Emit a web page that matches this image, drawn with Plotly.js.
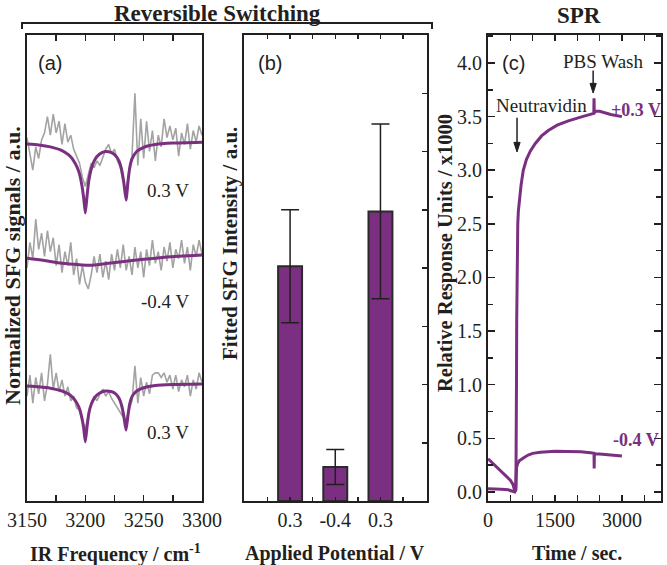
<!DOCTYPE html>
<html><head><meta charset="utf-8">
<script src="https://cdn.plot.ly/plotly-3.0.1.min.js"></script>
<style>html,body{margin:0;padding:0;background:#fff}</style>
</head><body><div id="chart" style="width:667px;height:565px"></div>
<script>
// ---------- Panel (a): SFG spectra (offset, arbitrary units) ----------
const freq = [3150,3152.5,3155,3157.5,3160,3162.5,3165,3167.5,3170,3172.5,3175,3177.5,3180,3182.5,3185,3187.5,3190,3192.5,3195,3197.5,3200,3202.5,3205,3207.5,3210,3212.5,3215,3217.5,3220,3222.5,3225,3227.5,3230,3232.5,3235,3237.5,3240,3242.5,3245,3247.5,3250,3252.5,3255,3257.5,3260,3262.5,3265,3267.5,3270,3272.5,3275,3277.5,3280,3282.5,3285,3287.5,3290,3292.5,3295,3297.5,3300];
const sfgTopData = [78.0,74.5,71.0,76.0,73.5,77.5,79.0,82.5,78.5,83.0,79.0,81.5,76.5,81.0,77.0,78.5,75.5,74.0,72.5,69.5,67.5,70.0,72.5,71.5,73.0,72.0,74.0,75.5,76.5,74.5,75.5,73.0,71.5,68.5,66.5,71.0,74.0,87.5,72.0,82.0,73.5,81.5,75.0,79.5,73.0,78.5,76.0,82.0,78.0,80.5,77.5,80.0,74.0,79.0,76.5,81.0,75.5,79.5,77.0,80.5,78.5];
const sfgMidData = [50.0,55.5,52.0,60.5,54.0,57.5,52.5,58.0,53.5,56.5,50.5,55.0,49.0,53.5,50.5,55.5,48.5,52.0,46.5,50.5,47.0,45.5,48.5,52.5,49.0,53.0,48.0,51.5,47.5,53.0,49.5,54.0,50.0,55.0,49.5,52.5,48.5,54.5,50.0,53.5,48.0,54.0,50.5,56.0,51.0,53.5,49.5,54.5,51.5,55.5,50.0,54.0,52.0,56.0,51.0,54.5,49.5,55.0,52.5,56.0,53.0];
const sfgBotData = [22.5,27.0,21.0,26.5,23.0,27.5,21.5,25.0,31.5,24.0,27.5,23.5,26.0,22.5,24.5,21.5,22.5,20.0,19.5,17.0,15.5,18.5,21.0,22.5,21.5,23.0,24.0,22.5,23.5,22.0,21.0,20.0,19.0,18.0,17.5,19.5,21.5,29.0,21.0,26.5,22.5,25.5,23.0,27.0,27.5,27.5,26.5,27.5,25.5,27.0,24.0,27.0,23.5,26.0,24.5,27.0,22.5,26.0,24.0,27.5,25.5];

const fitFreq = [3150,3160,3170,3180,3186,3190,3193,3195,3197,3198.5,3200,3201.5,3203,3205,3208,3212,3217,3222,3226,3229,3231,3233,3234.9,3236.5,3238,3240,3244,3250,3260,3275,3300];
const fitTop = [76.6,76.4,76.0,75.2,74.2,73.0,71.6,70.2,67.8,65.2,61.8,65.5,68.8,71.2,73.2,74.4,75.0,74.8,74.1,72.9,71.2,68.3,64.6,68.4,71.4,73.4,75.0,75.9,76.5,76.8,77.0];
const fitBot = [24.7,24.5,24.2,23.6,22.9,22.0,20.9,19.8,17.9,15.8,12.7,16.0,18.8,20.7,22.2,23.1,23.6,23.5,23.0,22.0,20.6,18.2,15.2,18.3,20.8,22.4,23.6,24.3,24.8,25.0,25.1];
const fitMidFreq = [3150,3165,3180,3195,3206,3220,3240,3260,3280,3300];
const fitMid = [52.1,51.6,51.0,50.7,50.6,51.0,51.6,52.1,52.5,52.8];
const spectrumLabels = ['0.3 V','-0.4 V','0.3 V'];

// ---------- Panel (b): fitted SFG intensity ----------
const potentialLabels = ['0.3','-0.4','0.3'];
const barPos = [1,2,3];
const sfgIntensity = [4.03,0.585,4.97];
const sfgError = [0.97,0.30,1.50];

// ---------- Panel (c): SPR sensorgrams ----------
const sprTimePos = [0,150,300,450,550,600,625,632,638,643,647,655,667,680,700,740,790,860,950,1060,1200,1350,1549,1800,2112,2300,2370,2375,2380,2390,2500,2750,3000];
const sprPos =     [0.03,0.03,0.025,0.02,0.01,0.0,0.02,0.3,1.0,1.6,2.0,2.3,2.5,2.62,2.72,2.86,3.0,3.1,3.18,3.25,3.32,3.37,3.42,3.46,3.5,3.52,3.53,3.67,3.53,3.55,3.55,3.52,3.5];
const sprTimeNeg = [0,100,200,300,400,500,560,600,620,628,640,660,700,800,900,1000,1170,1500,1800,2075,2300,2375,2378,2382,2385,2390,2500,2750,3000];
const sprNeg =     [0.31,0.27,0.225,0.185,0.145,0.11,0.07,0.01,0.03,0.18,0.23,0.26,0.29,0.32,0.345,0.36,0.37,0.38,0.38,0.375,0.365,0.36,0.22,0.36,0.24,0.355,0.355,0.345,0.335];
const sprTimeTicks = [0,500,1000,1500,2000,2500,3000,3500];
const sprTimeTickText = ['0','','','1500','','','3000',''];
const events = [{label:'Neutravidin', time:650, from:3.49, to:3.17},
                {label:'PBS Wash', time:2355, from:3.93, to:3.72}];
const curveLabels = ['+0.3 V','-0.4 V'];

// ---------- style ----------
const serif = 'Liberation Serif, Times New Roman, serif';
const sans = 'Liberation Sans, Arial, sans-serif';
const ink = '#231f20';
const purple = '#7b2f80';
const W = 667, H = 565;
const px = x => x / W;
const py = y => 1 - y / H;
const yDom = [py(501), py(35)];

const traces = [
  {x: freq, y: sfgTopData, xaxis:'x', yaxis:'y', mode:'lines', line:{color:'#a3a3a3', width:1.6}, hoverinfo:'skip'},
  {x: freq, y: sfgMidData, xaxis:'x', yaxis:'y', mode:'lines', line:{color:'#a3a3a3', width:1.6}, hoverinfo:'skip'},
  {x: freq, y: sfgBotData, xaxis:'x', yaxis:'y', mode:'lines', line:{color:'#a3a3a3', width:1.6}, hoverinfo:'skip'},
  {x: fitFreq, y: fitTop, xaxis:'x', yaxis:'y', mode:'lines', line:{color:purple, width:3, shape:'spline', smoothing:0.5}},
  {x: fitMidFreq, y: fitMid, xaxis:'x', yaxis:'y', mode:'lines', line:{color:purple, width:3, shape:'spline'}},
  {x: fitFreq, y: fitBot, xaxis:'x', yaxis:'y', mode:'lines', line:{color:purple, width:3, shape:'spline', smoothing:0.5}},
  {type:'bar', x: barPos, y: sfgIntensity, xaxis:'x2', yaxis:'y2', width:0.53,
   marker:{color:purple, line:{color:'#2a2a2a', width:2}},
   error_y:{type:'data', array:sfgError, visible:true, color:ink, thickness:1.5, width:9}},
  {x: sprTimePos, y: sprPos, xaxis:'x3', yaxis:'y3', mode:'lines', line:{color:purple, width:3}},
  {x: sprTimeNeg, y: sprNeg, xaxis:'x3', yaxis:'y3', mode:'lines', line:{color:purple, width:3}}
];

const axBase = {showline:true, linewidth:2, linecolor:ink, showgrid:false, zeroline:false,
  ticks:'inside', tickcolor:ink, tickwidth:1.5, tickfont:{family:serif, size:20, color:ink}};

// arrows as shapes (shaft + filled head), in the SPR axis coordinates
const headHalfW = 70, headLen = 0.09;
const arrowShapes = [];
events.forEach(ev => {
  arrowShapes.push({type:'line', xref:'x3', yref:'y3', x0:ev.time, x1:ev.time, y0:ev.from, y1:ev.to + headLen*0.6,
    line:{color:ink, width:1.5}});
  arrowShapes.push({type:'path', xref:'x3', yref:'y3',
    path:`M ${ev.time-headHalfW},${ev.to+headLen} L ${ev.time+headHalfW},${ev.to+headLen} L ${ev.time},${ev.to} Z`,
    fillcolor:ink, line:{color:ink, width:1}});
});

const layout = {
  width: W, height: H, margin:{l:0,r:0,t:0,b:0}, showlegend:false,
  paper_bgcolor:'#fff', plot_bgcolor:'#fff', bargap:0,
  xaxis: Object.assign({}, axBase, {domain:[px(27),px(202)], range:[3150,3300], tickmode:'linear', tick0:3150, dtick:50,
    ticklen:6, mirror:'allticks', anchor:'y',
    minor:{tickmode:'linear', tick0:3150, dtick:25, ticks:'inside', ticklen:6, tickcolor:ink, tickwidth:1.5}}),
  yaxis: Object.assign({}, axBase, {domain:yDom, range:[0,100], ticks:'', showticklabels:false, mirror:true, anchor:'x'}),
  xaxis2: Object.assign({}, axBase, {domain:[px(244),px(427)], range:[-0.02,4.03], tickmode:'array',
    tickvals:[0.5,1,1.5,2,2.5,3,3.5], ticktext:['',potentialLabels[0],'',potentialLabels[1],'',potentialLabels[2],''],
    ticklen:4, mirror:'allticks', anchor:'y2'}),
  yaxis2: Object.assign({}, axBase, {domain:yDom, range:[0,8], dtick:1, side:'right', ticklen:5,
    showticklabels:false, mirror:true, anchor:'x2'}),
  xaxis3: Object.assign({}, axBase, {domain:[px(488),px(661)], range:[0,3875], tickmode:'array',
    tickvals:sprTimeTicks, ticktext:sprTimeTickText, ticklen:6, mirror:'allticks', anchor:'y3'}),
  yaxis3: Object.assign({}, axBase, {domain:yDom, range:[-0.084,4.261], tickmode:'linear', tick0:0, dtick:0.5,
    tickformat:'.1f', ticklen:7, mirror:'allticks', anchor:'x3',
    minor:{tickmode:'linear', tick0:0, dtick:0.25, ticks:'inside', ticklen:5, tickcolor:ink, tickwidth:1.5}}),
  shapes: [{type:'path', xref:'paper', yref:'paper',
    path:`M ${px(22)},${py(29)} L ${px(22)},${py(23)} L ${px(432)},${py(23)} L ${px(432)},${py(29)}`,
    line:{color:ink, width:2}}].concat(arrowShapes),
  annotations: []
};

const A = layout.annotations;
function txt(text, x, y, font, extra){
  A.push(Object.assign({text:text, xref:'paper', yref:'paper', x:px(x), y:py(y), showarrow:false,
    xanchor:'center', yanchor:'middle', font:font}, extra||{}));
}
const titleFont = {family:serif, size:23, color:ink, weight:'bold'};
const axTitleFont = {family:serif, size:20, color:ink, weight:'bold'};
const noteFont = {family:serif, size:19, color:ink};
const panelFont = {family:sans, size:20, color:ink};
const curveFont = {family:serif, size:18, color:purple, weight:'bold'};

txt('Reversible Switching', 217, 0, titleFont, {yanchor:'top', borderpad:0});
txt('SPR', 579, 15, titleFont);
txt('IR Frequency / cm<sup>-1</sup>', 115, 553, axTitleFont);
txt('Applied Potential / V', 335, 553, axTitleFont);
txt('Time / sec.', 577, 553, axTitleFont);
txt('Normalized SFG signals / a.u.', 12, 266, Object.assign({}, axTitleFont, {size:22}), {textangle:-90});
txt('Fitted SFG Intensity / a.u.', 230, 244, Object.assign({}, axTitleFont, {size:21}), {textangle:-90});
txt('Relative Response Units / x1000', 445, 253, Object.assign({}, axTitleFont, {size:20.5}), {textangle:-90});
txt(spectrumLabels[0], 168, 190, noteFont);
txt(spectrumLabels[1], 165, 301, noteFont);
txt(spectrumLabels[2], 168, 433, noteFont);
txt('(a)', 50, 63, panelFont);
txt('(b)', 270, 63, panelFont);
txt('(c)', 513, 63, panelFont);
txt(events[0].label, 541, 105, noteFont);
txt(events[1].label, 603, 62, noteFont);
txt(curveLabels[0], 663, 110, curveFont, {xanchor:'right'});
txt(curveLabels[1], 661, 440, curveFont, {xanchor:'right'});

Plotly.newPlot('chart', traces, layout, {staticPlot:true, displayModeBar:false});
</script></body></html>
